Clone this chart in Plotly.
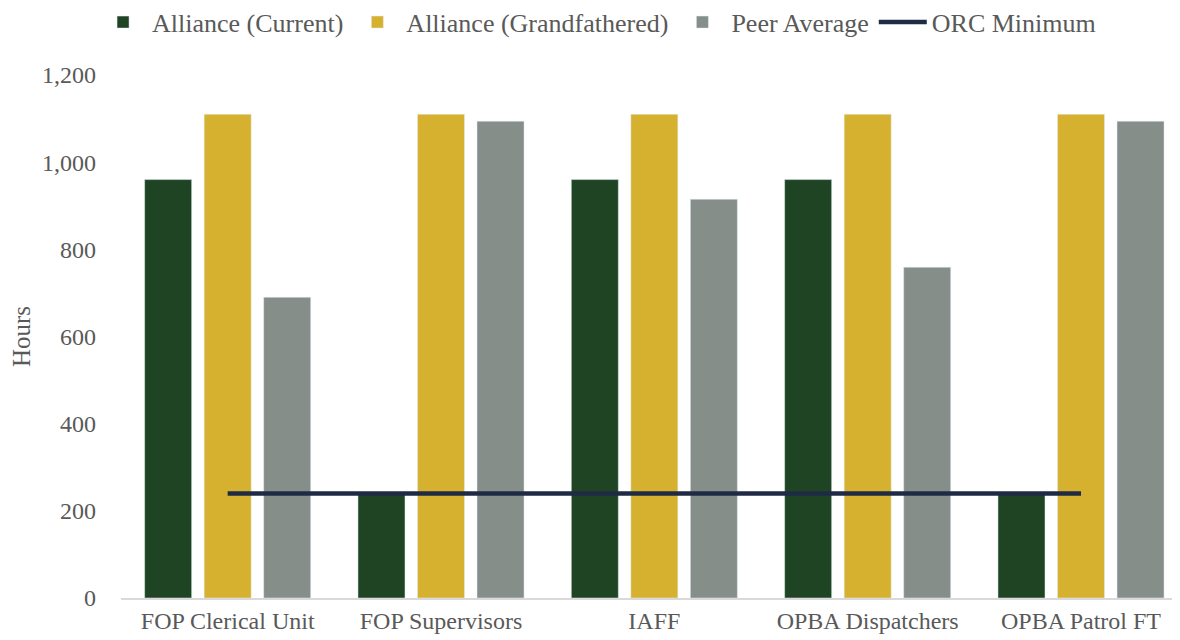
import plotly.graph_objects as go

categories = ["FOP Clerical Unit", "FOP Supervisors", "IAFF", "OPBA Dispatchers", "OPBA Patrol FT"]
alliance_current = [960, 240, 960, 960, 240]
alliance_grandfathered = [1110, 1110, 1110, 1110, 1110]
peer_average = [690, 1094, 915, 759, 1094]
orc_minimum = [240, 240, 240, 240, 240]
y_ticks = [0, 200, 400, 600, 800, 1000, 1200]

FONT = "Liberation Serif, Times New Roman, serif"
TXT = "#595959"

fig = go.Figure()
fig.add_bar(x=categories, y=alliance_current, name="Alliance (Current)", marker_color="#1F4424")
fig.add_bar(x=categories, y=alliance_grandfathered, name="Alliance (Grandfathered)", marker_color="#D6B12F")
fig.add_bar(x=categories, y=peer_average, name="Peer Average", marker_color="#858E89")
fig.add_scatter(x=categories, y=orc_minimum, name="ORC Minimum", mode="lines",
                line=dict(color="#1F2A44", width=4.5))

fig.update_layout(
    width=1180, height=640,
    margin=dict(l=113, r=8, t=67, b=50, autoexpand=False),
    paper_bgcolor="white", plot_bgcolor="white",
    barmode="group", bargap=0.163, bargroupgap=0.21,
    font=dict(family=FONT, color=TXT, size=24),
    legend=dict(orientation="h", x=0.45, xanchor="center", y=1.101, yref="paper",
                yanchor="middle", font=dict(size=26, color=TXT), traceorder="normal",
                itemwidth=48),
    showlegend=True,
)
fig.update_xaxes(range=[-0.5, 4.464], showgrid=False, showline=True, linecolor="#D9D9D9",
                 linewidth=1.5, ticks="", tickfont=dict(size=24, color=TXT))
fig.update_yaxes(range=[0, 1200], tickvals=y_ticks, tickformat=",", showgrid=False,
                 zeroline=False, showline=False, ticks="", ticklabelstandoff=24,
                 title=dict(text="Hours", font=dict(size=25, color=TXT), standoff=26),
                 tickfont=dict(size=24, color=TXT))

fig.write_html("out.html")
